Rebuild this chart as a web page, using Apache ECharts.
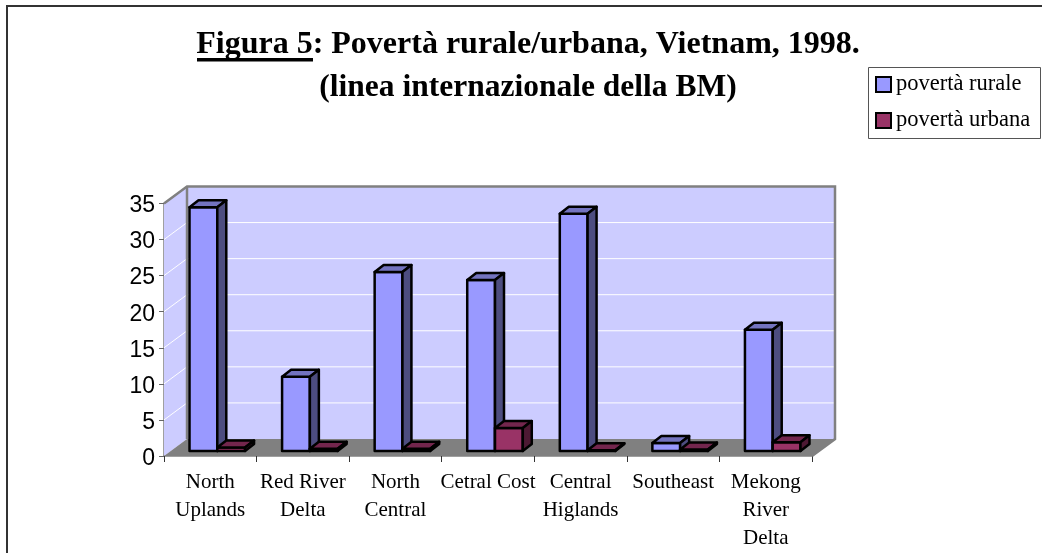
<!DOCTYPE html>
<html>
<head>
<meta charset="utf-8">
<style>html,body{margin:0;padding:0;background:#fff}#c{width:1042px;height:553px}</style>
<script src="https://cdn.jsdelivr.net/npm/echarts@6/dist/echarts.min.js"></script>
</head>
<body>
<div id="c"></div>
<script>
const categories = ['North\nUplands','Red River\nDelta','North\nCentral','Cetral Cost','Central\nHiglands','Southeast','Mekong\nRiver\nDelta'];
const ruralValues = [33.8, 10.3, 24.8, 23.7, 32.9, 1.1, 16.8];
const urbanValues = [0.5, 0.3, 0.3, 3.2, 0.1, 0.2, 1.2];
const yTicks = [5,10,15,20,25,30,35];
const seriesNames = ['povertà rurale','povertà urbana'];
const titleLine1 = 'Figura 5: Povertà rurale/urbana, Vietnam, 1998.';
const titleLine2 = '(linea internazionale della BM)';

const serif = '"Liberation Serif"', sans = '"Liberation Sans"';
const wallDX = 23, wallDY = -17, barDX = 9, barDY = -7, barOffX = 7, barOffY = -5, barFrac = 0.3;

const chart = echarts.init(document.getElementById('c'), null, {renderer:'canvas'});

function poly(points, fill, stroke, lw){
  return {type:'polygon', shape:{points}, style:{fill, stroke, lineWidth:lw||0, lineJoin:'round'}};
}
function wallsItem(params, api){
  const cs = params.coordSys;
  const l = cs.x, r = cs.x+cs.width, b = api.coord([0,0])[1], t = api.coord([0,35])[1];
  const kids = [
    poly([[l+wallDX,b+wallDY],[r+wallDX,b+wallDY],[r+wallDX,t+wallDY],[l+wallDX,t+wallDY]],'#CCCCFF'),
    poly([[l,b],[l+wallDX,b+wallDY],[l+wallDX,t+wallDY],[l,t]],'#CCCCFF'),
    poly([[l,b],[r,b],[r+wallDX,b+wallDY],[l+wallDX,b+wallDY]],'#808080')
  ];
  yTicks.slice(0,-1).forEach(v=>{
    const y = api.coord([0,v])[1];
    kids.push({type:'polyline',shape:{points:[[l,y],[l+wallDX,y+wallDY],[r+wallDX,y+wallDY]]},style:{fill:null,stroke:'#fff',lineWidth:1}});
  });
  kids.push({type:'polyline',shape:{points:[[l,t],[l+wallDX,t+wallDY],[r+wallDX,t+wallDY],[r+wallDX,b+wallDY],[r,b]]},style:{fill:null,stroke:'#808080',lineWidth:2.5}});
  kids.push({type:'line',shape:{x1:l+wallDX,y1:t+wallDY,x2:l+wallDX,y2:b+wallDY},style:{stroke:'#808080',lineWidth:2.5}});
  return {type:'group',children:kids};
}
function barItem(slot, front, top, side){
  return function(params, api){
    const i = api.value(0), v = api.value(1);
    const c = api.coord([i,v]), z = api.coord([i,0]);
    const w = api.size([1,0])[0]*barFrac;
    const x0 = c[0]+barOffX+(slot-1)*w, x1 = x0+w;
    const yt = c[1]+barOffY, yb = z[1]+barOffY;
    const s = '#000', lw = 2.5;
    return {type:'group',children:[
      poly([[x0,yb],[x1,yb],[x1,yt],[x0,yt]],front,s,lw),
      poly([[x0,yt],[x1,yt],[x1+barDX,yt+barDY],[x0+barDX,yt+barDY]],top,s,lw),
      poly([[x1,yb],[x1+barDX,yb+barDY],[x1+barDX,yt+barDY],[x1,yt]],side,s,lw)
    ]};
  };
}
chart.setOption({
  animation:false,
  backgroundColor:'#fff',
  title:[
    {text:titleLine1,left:528,top:29,textAlign:'center',padding:0,textStyle:{fontFamily:serif,fontWeight:'bold',fontSize:32,color:'#000'}},
    {text:titleLine2,left:528,top:72,textAlign:'center',padding:0,textStyle:{fontFamily:serif,fontWeight:'bold',fontSize:31.5,color:'#000'}}
  ],
  legend:{
    orient:'vertical',left:875,top:73,padding:0,itemWidth:15,itemHeight:15,itemGap:13,
    data:seriesNames,icon:'rect',
    textStyle:{fontFamily:serif,fontSize:22.5,color:'#000'},
    itemStyle:{borderColor:'#000',borderWidth:2}
  },
  grid:{left:164,right:230,top:203.5,bottom:97,containLabel:false},
  xAxis:{type:'category',data:categories,
    axisLine:{lineStyle:{color:'#808080',width:1.5}},
    axisTick:{show:true,length:6,lineStyle:{color:'#333',width:1}},
    axisLabel:{fontFamily:serif,fontSize:21,color:'#000',lineHeight:28,margin:12,interval:0},
    splitLine:{show:false}},
  yAxis:{type:'value',min:0,max:35,interval:5,
    axisLine:{show:true,lineStyle:{color:'#808080',width:1.5}},
    axisTick:{show:true,length:5,lineStyle:{color:'#666',width:1}},
    axisLabel:{margin:9,formatter:'{t|{value}}',
      rich:{t:{fontFamily:sans,fontSize:23,color:'#000',padding:[5,0,0,0]}}},
    splitLine:{show:false}},
  graphic:[
    {type:'polyline',shape:{points:[[7,560],[7,6],[1050,6]]},style:{fill:null,stroke:'#333',lineWidth:2},silent:true,z:-1},
    {type:'rect',shape:{x:868.5,y:67.5,width:172,height:71},style:{fill:null,stroke:'#555',lineWidth:1},silent:true,z:-1},
    {type:'rect',shape:{x:197,y:58,width:116,height:3.5},style:{fill:'#000'},silent:true}
  ],
  series:[
    {type:'custom',name:'walls',renderItem:wallsItem,clip:false,silent:true,data:[[0,0]],encode:{x:0,y:1},z:1},
    {type:'custom',name:seriesNames[0],renderItem:barItem(0,'#9999FF','#7373BF','#4D4D80'),clip:false,itemStyle:{color:'#9999FF'},
     data:ruralValues.map((v,i)=>[i,v]),encode:{x:0,y:1},z:2},
    {type:'custom',name:seriesNames[1],renderItem:barItem(1,'#993366','#73264D','#4D1933'),clip:false,itemStyle:{color:'#993366'},
     data:urbanValues.map((v,i)=>[i,v]),encode:{x:0,y:1},z:3}
  ]
});
</script>
</body>
</html>
